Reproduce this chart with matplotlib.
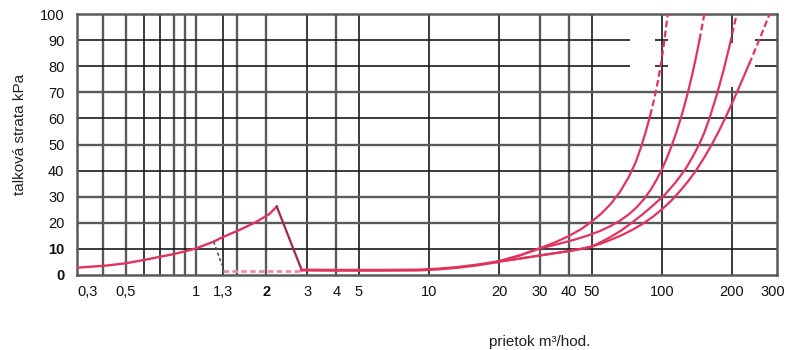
import matplotlib
matplotlib.use('Agg')
import matplotlib.pyplot as plt

plt.rcParams['font.family'] = ['Liberation Sans', 'DejaVu Sans']

# axis range and ticks (left edge is the 0,3 line, right edge just past 300)
x_min, x_max = 0.308, 312
x_ticks = [0.308, 0.5, 1, 1.3, 2, 3, 4, 5, 10, 20, 30, 40, 50, 100, 200, 300]
x_labels = ['0,3', '0,5', '1', '1,3', '2', '3', '4', '5', '10', '20', '30', '40', '50', '100', '200', '300']
y_ticks = [0, 10, 20, 30, 40, 50, 60, 70, 80, 90, 100]

# small meter: rising curve up to the switch point, then the drop
q_small = [0.308, 0.41, 0.5, 0.61, 0.71, 0.8, 0.9, 1.0, 1.19, 1.3, 1.53, 1.8, 2.06, 2.22]
dp_small = [2.8, 3.6, 4.5, 5.9, 7.1, 8.0, 9.1, 10.2, 12.8, 14.5, 17.2, 20.2, 23.3, 26.2]
q_drop = [2.22, 2.84]
dp_drop = [26.2, 1.9]
q_drop_low = [1.19, 1.29]
dp_drop_low = [12.8, 3.8]
q_low = [1.3, 2.84]
dp_low = [1.5, 1.5]

# common low part of the large meters
q_base = [2.84, 4, 6, 9, 11, 13.2, 16, 19.5]
dp_base = [1.9, 1.8, 1.8, 1.9, 2.3, 2.9, 3.8, 5.0]

# four large meter curves
q_c1 = [19.5, 24.5, 30, 35, 40, 45, 50, 55, 60, 66, 72, 77, 81, 85, 89, 93, 96.5, 99.5, 102.5, 106]
dp_c1 = [5.0, 7.5, 10.3, 12.6, 15.0, 17.6, 20.5, 23.6, 27.0, 31.8, 37.5, 43.0, 48.5, 54.5, 61, 68, 75, 82, 90, 100]
q_c2 = [19.5, 24.5, 30, 36, 42, 48, 54, 60, 66, 72, 78, 84, 90, 95, 100, 105, 110, 115, 120, 125,
        130, 135, 140, 145, 150, 152]
dp_c2 = [5.0, 7.5, 10.2, 11.9, 13.5, 15.1, 16.8, 18.7, 20.8, 23.2, 26.0, 29.2, 33.0, 36.6, 40.5, 44.8,
         49.4, 54.3, 59.5, 65.0, 70.8, 76.9, 83.3, 90.0, 97.0, 100]
q_c3 = [19.5, 25, 30, 35, 40, 45, 50, 55, 60, 67, 75, 83, 92, 103, 114, 125, 135, 144.5, 152, 160,
        172, 184, 196, 207, 209.5]
dp_c3 = [5.0, 6.4, 7.5, 8.4, 9.2, 10.0, 10.9, 12.7, 14.5, 17.1, 20.3, 23.4, 26.8, 30.8, 35.3, 40.0,
         45.0, 50, 54.5, 60, 69, 78.5, 88.5, 98, 100]
q_c4 = [19.5, 25, 30, 35, 40, 45, 50, 55, 60, 67, 75, 83, 92, 101, 110, 120, 130, 140, 152, 164,
        176, 188, 200, 212, 225, 237, 250, 264, 278, 290]
dp_c4 = [5.0, 6.4, 7.5, 8.4, 9.2, 10.0, 10.9, 12.1, 13.4, 15.2, 17.4, 19.7, 22.5, 25.5, 28.6, 32.3,
         36.1, 40.0, 45.0, 50.1, 55.3, 60.6, 65.8, 70.9, 76.2, 80.9, 85.8, 90.9, 95.9, 100]
# index from which each curve is drawn dashed
dash_from = [14, 23, 22, 25]

pink = '#e0345e'
dark = '#1a1a1a'
gray = '#5a5a5a'

fig = plt.figure(figsize=(8.07, 3.5), dpi=100)
ax = fig.add_axes([77 / 807, 1 - 275 / 350, 700 / 807, 261 / 350])
ax.set_xscale('log')
ax.set_xlim(x_min, x_max)
ax.set_ylim(0, 100)

# grid
for x in [0.6, 0.7, 1.3, 3, 5, 10, 20, 50, 100]:
    ax.axvline(x, color=dark, lw=1.2, zorder=1)
for x in [0.4, 0.5, 0.8, 0.9, 1, 1.5, 2, 4, 30, 40]:
    ax.axvline(x, color=gray, lw=1.7, zorder=1)
ax.vlines(200, 0, 72, color=dark, lw=1.2, zorder=1)
ax.vlines(200, 89, 100, color=dark, lw=1.2, zorder=1)
for y in [10, 40, 60]:
    ax.axhline(y, color=dark, lw=1.2, zorder=1)
for y in [20, 30, 50, 70]:
    ax.axhline(y, color=gray, lw=1.7, zorder=1)
for y in [80, 90]:
    ax.hlines(y, x_min, 73, color=dark, lw=1.2, zorder=1)
    ax.hlines(y, 93, 106, color=dark, lw=1.2, zorder=1)
    ax.hlines(y, 250, x_max, color=dark, lw=1.2, zorder=1)

for s in ax.spines.values():
    s.set_color(gray)
    s.set_linewidth(1.8)

# curves
ax.plot(q_small, dp_small, color=pink, lw=1.7, zorder=3)
ax.plot(q_drop, dp_drop, color='#9a2a48', lw=1.6, zorder=3)
ax.plot(q_drop_low, dp_drop_low, color='#555555', lw=1.2, ls=(0, (2, 1.5)), zorder=3)
ax.plot(q_low, dp_low, color='#f08aa4', lw=2.0, ls=(0, (2, 1.2)), zorder=3)
ax.plot(q_base, dp_base, color=pink, lw=2.2, zorder=3)

for q, dp, k in zip([q_c1, q_c2, q_c3, q_c4], [dp_c1, dp_c2, dp_c3, dp_c4], dash_from):
    ax.plot(q[:k + 1], dp[:k + 1], color=pink, lw=1.6, zorder=3)
    ax.plot(q[k:], dp[k:], color=pink, lw=1.6, ls=(0, (3, 1.5)), zorder=3)

# ticks
ax.set_xticks(x_ticks)
ax.set_xticklabels(x_labels)
ax.minorticks_off()
ax.set_yticks(y_ticks)
ax.tick_params(length=0, labelsize=10.5, labelcolor='#111111')
ax.tick_params(axis='x', pad=7)
ax.tick_params(axis='y', pad=9)
xl = ax.get_xticklabels()
xl[0].set_ha('left')
xl[4].set_fontweight('bold')
yl = ax.get_yticklabels()
yl[0].set_fontweight('bold')
yl[1].set_fontweight('bold')

fig.text(20 / 807, 1 - 134 / 350, 'talková strata kPa', rotation=90,
         ha='center', va='center', fontsize=11, color='#222222')
fig.text(540 / 807, 1 - 342 / 350, 'prietok m³/hod.', ha='center', va='center',
         fontsize=11, color='#222222')

fig.savefig('out.png', dpi=100)
